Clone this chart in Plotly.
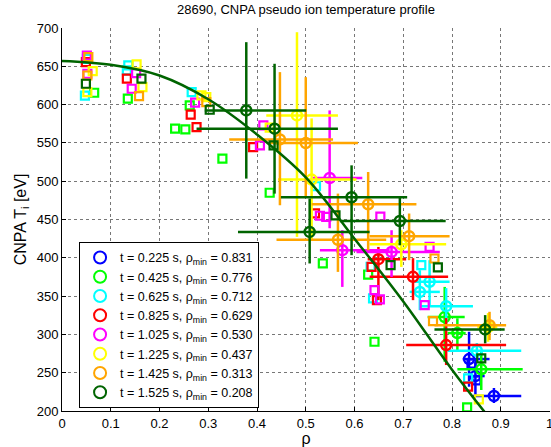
import plotly.graph_objects as go

# ---------------- data ----------------
times = ["0.225", "0.425", "0.625", "0.825", "1.025", "1.225", "1.425", "1.525"]
rho_min = ["0.831", "0.776", "0.712", "0.629", "0.530", "0.437", "0.313", "0.208"]
colors = ["#0000ff", "#00ff00", "#00ffff", "#ff0000", "#ff00ff", "#ffff00", "#ffa500", "#006400"]

# raw points (open squares)
sq_rho = [
    [0.840, 0.850],
    [0.066, 0.135, 0.232, 0.253, 0.262, 0.329, 0.426, 0.535, 0.628, 0.641, 0.831],
    [0.047, 0.051, 0.136, 0.133, 0.266, 0.521, 0.633, 0.638, 0.737, 0.833],
    [0.049, 0.133, 0.264, 0.276, 0.392, 0.519, 0.635, 0.646, 0.833],
    [0.051, 0.052, 0.152, 0.143, 0.273, 0.413, 0.406, 0.529, 0.542, 0.653, 0.754, 0.641, 0.652, 0.744],
    [0.052, 0.063, 0.153, 0.165, 0.296, 0.286, 0.426, 0.855],
    [0.054, 0.052, 0.158, 0.296, 0.761, 0.764],
    [0.049, 0.163, 0.303, 0.434, 0.561, 0.674, 0.771, 0.860],
]
sq_T = [
    [262, 240],
    [615.5, 607.7, 568.6, 567.7, 599, 529.5, 484.9, 392.6, 378, 290.4, 204.8],
    [611.6, 659.8, 651.1, 644.6, 616.3, 493.4, 388.1, 346.9, 390.4, 242.6],
    [655.4, 633.8, 586.8, 570.7, 544.6, 458.1, 388.1, 344.7, 231.7],
    [664.1, 640.3, 641.1, 620.7, 602.5, 572.9, 546.8, 454.9, 453.3, 453.8, 414.2, 357.8, 345.6, 338.2],
    [616.3, 643.7, 652.4, 622.8, 609.8, 612, 569.9, 215.3],
    [661.9, 638, 611.1, 603.3, 317.3, 399.1],
    [627.2, 633.8, 593.3, 546.8, 455.5, 390.4, 387.4, 268.7],
]

# binned points (open circles with error bars)
c_rho = [
    [0.835, 0.848, 0.886],
    [0.785, 0.860, 0.811],
    [0.734, 0.788, 0.851, 0.754],
    [0.720, 0.649, 0.788],
    [0.549, 0.575, 0.676],
    [0.482, 0.512, 0.696, 0.874],
    [0.447, 0.500, 0.628, 0.566, 0.712, 0.877],
    [0.378, 0.436, 0.508, 0.594, 0.693, 0.868],
]
c_T = [
    [267.8, 245.6, 219.6],
    [322.6, 254.4, 301.7],
    [355.5, 336.9, 278.6, 368.6],
    [375.1, 398.2, 286.0],
    [504.2, 410.0, 407.7],
    [585.9, 502.1, 417.7, 309.5],
    [554.6, 549.8, 469.9, 423.6, 428.2, 312.1],
    [592.4, 568.6, 433.8, 479.0, 448.0, 306.5],
]
c_rho_lo = [
    [0.822, 0.836, 0.843],
    [0.750, 0.811, 0.791],
    [0.713, 0.734, 0.791, 0.723],
    [0.631, 0.627, 0.706],
    [0.514, 0.529, 0.604],
    [0.419, 0.443, 0.631, 0.852],
    [0.343, 0.422, 0.512, 0.440, 0.631, 0.764],
    [0.293, 0.276, 0.361, 0.449, 0.570, 0.764],
]
c_rho_hi = [
    [0.877, 0.867, 0.942],
    [0.826, 0.945, 0.828],
    [0.775, 0.843, 0.942, 0.795],
    [0.792, 0.706, 0.911],
    [0.616, 0.672, 0.775],
    [0.566, 0.604, 0.788, 0.893],
    [0.556, 0.607, 0.727, 0.665, 0.795, 0.911],
    [0.501, 0.566, 0.631, 0.708, 0.787, 0.908],
]
c_T_lo = [
    [231.7, 220.9, 210.4],
    [264.3, 227.4, 279.5],
    [331.7, 314.7, 269.1, 338.2],
    [344.7, 344.7, 260.0],
    [438.6, 362.0, 375.0],
    [427.3, 423.0, 388.1, 290.4],
    [468.6, 479.4, 409.9, 381.6, 396.9, 292.6],
    [503.4, 483.8, 392.6, 403.4, 416.4, 288.3],
]
c_T_hi = [
    [303.4, 263.9, 230.0],
    [362.0, 277.0, 321.0],
    [383.8, 360.4, 288.7, 396.9],
    [399.5, 414.2, 321.3],
    [592.4, 436.0, 436.0],
    [694.5, 582.0, 436.0, 327.8],
    [642.4, 635.8, 512.0, 483.8, 457.8, 329.5],
    [681.5, 653.3, 477.3, 520.7, 479.4, 325.2],
]

# fitted profile
fit_rho = [0.0, 0.1, 0.2, 0.3, 0.4, 0.5, 0.6, 0.7, 0.8, 0.9]
fit_T = [657, 652, 638, 607, 561, 505, 425, 343, 254, 172]

x_ticks = [0, 0.1, 0.2, 0.3, 0.4, 0.5, 0.6, 0.7, 0.8, 0.9, 1]
x_ticktext = ["0", "0.1", "0.2", "0.3", "0.4", "0.5", "0.6", "0.7", "0.8", "0.9", "1"]
y_ticks = [200, 250, 300, 350, 400, 450, 500, 550, 600, 650, 700]

# ---------------- figure ----------------
fig = go.Figure()
FONT = "Liberation Sans, Arial, Helvetica, sans-serif"

for i in range(len(times)):
    col = colors[i]
    fig.add_trace(go.Scatter(
        x=sq_rho[i], y=sq_T[i], mode="markers", showlegend=False,
        marker=dict(symbol="square-open", size=8, color=col, line=dict(width=2.2, color=col)),
        hoverinfo="skip"))
    ex_p = [h - c for h, c in zip(c_rho_hi[i], c_rho[i])]
    ex_m = [c - l for l, c in zip(c_rho_lo[i], c_rho[i])]
    ey_p = [h - c for h, c in zip(c_T_hi[i], c_T[i])]
    ey_m = [c - l for l, c in zip(c_T_lo[i], c_T[i])]
    fig.add_trace(go.Scatter(
        x=c_rho[i], y=c_T[i], mode="markers",
        name=f"t = {times[i]} s, ρ<sub>min</sub> = {rho_min[i]}",
        marker=dict(symbol="circle-open", size=10, color=col, line=dict(width=2.5, color=col)),
        error_x=dict(type="data", symmetric=False, array=ex_p, arrayminus=ex_m,
                     color=col, thickness=2.5, width=0),
        error_y=dict(type="data", symmetric=False, array=ey_p, arrayminus=ey_m,
                     color=col, thickness=2.5, width=0)))

fig.add_trace(go.Scatter(
    x=fit_rho, y=fit_T, mode="lines", showlegend=False,
    line=dict(color="#006400", width=2.5, shape="spline")))

fig.update_layout(
    width=551, height=447,
    margin=dict(l=62, r=1, t=28, b=36),
    paper_bgcolor="white", plot_bgcolor="white",
    font=dict(family=FONT, size=13, color="black"),
    title=dict(text="28690, CNPA pseudo ion temperature profile", x=0.5, xref="paper",
               xanchor="center", y=1, yref="container", yanchor="top", pad=dict(t=5),
               font=dict(size=13)),
    legend=dict(x=0.035, y=0.008, xanchor="left", yanchor="bottom",
                bgcolor="white", bordercolor="black", borderwidth=1,
                font=dict(size=12.5), tracegroupgap=0, itemsizing="constant"),
)
fig.update_xaxes(range=[0, 1.001], tickvals=x_ticks, ticktext=x_ticktext,
                 ticks="inside", ticklen=4, tickcolor="black", ticklabeloverflow="allow",
                 showline=True, linecolor="black", linewidth=1, mirror=False,
                 showgrid=True, gridcolor="#777777", griddash="dot", gridwidth=1,
                 zeroline=False, automargin=False, title=dict(text="ρ", standoff=6))
fig.update_yaxes(range=[200, 700], tickvals=y_ticks,
                 ticks="inside", ticklen=4, tickcolor="black",
                 showline=True, linecolor="black", linewidth=1, mirror=False,
                 showgrid=True, gridcolor="#777777", griddash="dot", gridwidth=1,
                 zeroline=False, automargin=False, title=dict(text="CNPA T<sub>i</sub> [eV]", standoff=6))

fig.write_html("out.html")
